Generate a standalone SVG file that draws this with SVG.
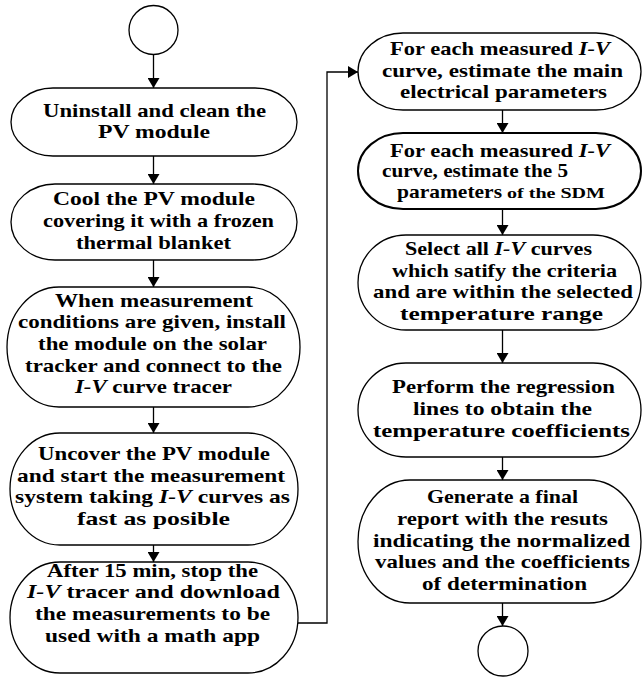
<svg xmlns="http://www.w3.org/2000/svg" width="643" height="678" viewBox="0 0 643 678">
<style>
.n{fill:#fff;stroke:#000;stroke-width:1.3}
.t{font-family:"Liberation Serif","Times New Roman",serif;font-weight:bold;font-size:19px;fill:#000}
.s{font-size:14.5px}
.i{font-style:italic}
.c{fill:none;stroke:#000;stroke-width:1.3}
</style>
<defs>
<marker id="a" markerWidth="10" markerHeight="12" refX="10" refY="6" orient="auto" markerUnits="userSpaceOnUse">
<path d="M0,0 L10,6 L0,12 Z" fill="#000"/>
</marker>
</defs>
<rect width="643" height="678" fill="#fff"/>
<g id="connectors">
<line class="c" x1="153.5" y1="55" x2="153.5" y2="88" marker-end="url(#a)"/>
<line class="c" x1="153.5" y1="156" x2="153.5" y2="184" marker-end="url(#a)"/>
<line class="c" x1="153.5" y1="260" x2="153.5" y2="287" marker-end="url(#a)"/>
<line class="c" x1="153.5" y1="407" x2="153.5" y2="433" marker-end="url(#a)"/>
<line class="c" x1="153.5" y1="545" x2="153.5" y2="562" marker-end="url(#a)"/>
<polyline class="c" points="298,623 327,623 327,72 358,72" marker-end="url(#a)"/>
<line class="c" x1="502.5" y1="110" x2="502.5" y2="133" marker-end="url(#a)"/>
<line class="c" x1="502.5" y1="209" x2="502.5" y2="235" marker-end="url(#a)"/>
<line class="c" x1="502.5" y1="330" x2="502.5" y2="363" marker-end="url(#a)"/>
<line class="c" x1="502.5" y1="457" x2="502.5" y2="480" marker-end="url(#a)"/>
<line class="c" x1="502.5" y1="603" x2="502.5" y2="626" marker-end="url(#a)"/>
</g>
<g id="start"><circle class="n" cx="153.5" cy="30" r="24.5"/></g>
<g id="n1">
<rect class="n" x="11" y="88" width="286" height="68" rx="42" ry="34"/>
<text class="t" x="43" y="117" textLength="223" lengthAdjust="spacingAndGlyphs">Uninstall and clean the</text>
<text class="t" x="98" y="138" textLength="112" lengthAdjust="spacingAndGlyphs">PV module</text>
</g>
<g id="n2">
<rect class="n" x="11" y="184" width="286" height="76" rx="44" ry="38"/>
<text class="t" x="53" y="205" textLength="202" lengthAdjust="spacingAndGlyphs">Cool the PV module</text>
<text class="t" x="43" y="227" textLength="231" lengthAdjust="spacingAndGlyphs">covering it with a frozen</text>
<text class="t" x="76" y="249" textLength="155" lengthAdjust="spacingAndGlyphs">thermal blanket</text>
</g>
<g id="n3">
<rect class="n" x="7" y="287" width="293" height="120" rx="52" ry="60"/>
<text class="t" x="55" y="307" textLength="198" lengthAdjust="spacingAndGlyphs">When measurement</text>
<text class="t" x="18" y="328" textLength="268" lengthAdjust="spacingAndGlyphs">conditions are given, install</text>
<text class="t" x="38" y="350" textLength="229" lengthAdjust="spacingAndGlyphs">the module on the solar</text>
<text class="t" x="25" y="372" textLength="257" lengthAdjust="spacingAndGlyphs">tracker and connect to the</text>
<text class="t" x="75" y="393" textLength="157" lengthAdjust="spacingAndGlyphs"><tspan class="i">I-V</tspan> curve tracer</text>
</g>
<g id="n4">
<rect class="n" x="10" y="433" width="288" height="112" rx="50" ry="56"/>
<text class="t" x="38" y="460" textLength="232" lengthAdjust="spacingAndGlyphs">Uncover the PV module</text>
<text class="t" x="17" y="482" textLength="268" lengthAdjust="spacingAndGlyphs">and start the measurement</text>
<text class="t" x="15" y="503" textLength="275" lengthAdjust="spacingAndGlyphs">system taking <tspan class="i">I-V</tspan> curves as</text>
<text class="t" x="77" y="525" textLength="153" lengthAdjust="spacingAndGlyphs">fast as posible</text>
</g>
<g id="n5">
<rect class="n" x="10" y="562" width="288" height="111" rx="50" ry="55.5"/>
<text class="t" x="47" y="577" textLength="211" lengthAdjust="spacingAndGlyphs">After 15 min, stop the</text>
<text class="t" x="27" y="598" textLength="253" lengthAdjust="spacingAndGlyphs"><tspan class="i">I-V</tspan> tracer and download</text>
<text class="t" x="35" y="620" textLength="235" lengthAdjust="spacingAndGlyphs">the measurements to be</text>
<text class="t" x="45" y="642" textLength="215" lengthAdjust="spacingAndGlyphs">used with a math app</text>
</g>
<g id="r1">
<rect class="n" x="358" y="33" width="283" height="77" rx="45" ry="38.5"/>
<text class="t" x="390" y="55" textLength="220" lengthAdjust="spacingAndGlyphs">For each measured <tspan class="i">I-V</tspan></text>
<text class="t" x="382" y="77" textLength="241" lengthAdjust="spacingAndGlyphs">curve, estimate the main</text>
<text class="t" x="400" y="98" textLength="207" lengthAdjust="spacingAndGlyphs">electrical parameters</text>
</g>
<g id="r2">
<rect class="n" x="358" y="133" width="283" height="76" rx="45" ry="38" style="stroke-width:2"/>
<text class="t" x="390" y="157" textLength="220" lengthAdjust="spacingAndGlyphs">For each measured <tspan class="i">I-V</tspan></text>
<text class="t" x="382" y="177" textLength="186" lengthAdjust="spacingAndGlyphs">curve, estimate the 5</text>
<text class="t" x="397" y="198" textLength="105" lengthAdjust="spacingAndGlyphs">parameters</text>
<text class="t s" x="507" y="198" textLength="98" lengthAdjust="spacingAndGlyphs">of the SDM</text>
</g>
<g id="r3">
<rect class="n" x="358" y="235" width="283" height="95" rx="48" ry="47.5"/>
<text class="t" x="405" y="255" textLength="187" lengthAdjust="spacingAndGlyphs">Select all <tspan class="i">I-V</tspan> curves</text>
<text class="t" x="392" y="277" textLength="225" lengthAdjust="spacingAndGlyphs">which satify the criteria</text>
<text class="t" x="373" y="298" textLength="260" lengthAdjust="spacingAndGlyphs">and are within the selected</text>
<text class="t" x="400" y="320" textLength="203" lengthAdjust="spacingAndGlyphs">temperature range</text>
</g>
<g id="r4">
<rect class="n" x="358" y="363" width="283" height="94" rx="48" ry="47"/>
<text class="t" x="392" y="393" textLength="223" lengthAdjust="spacingAndGlyphs">Perform the regression</text>
<text class="t" x="413" y="415" textLength="179" lengthAdjust="spacingAndGlyphs">lines to obtain the</text>
<text class="t" x="373" y="437" textLength="257" lengthAdjust="spacingAndGlyphs">temperature coefficients</text>
</g>
<g id="r5">
<rect class="n" x="358" y="480" width="283" height="123" rx="52" ry="61.5"/>
<text class="t" x="427" y="503" textLength="151" lengthAdjust="spacingAndGlyphs">Generate a final</text>
<text class="t" x="397" y="525" textLength="211" lengthAdjust="spacingAndGlyphs">report with the resuts</text>
<text class="t" x="373" y="547" textLength="257" lengthAdjust="spacingAndGlyphs">indicating the normalized</text>
<text class="t" x="375" y="568" textLength="255" lengthAdjust="spacingAndGlyphs">values and the coefficients</text>
<text class="t" x="422" y="590" textLength="165" lengthAdjust="spacingAndGlyphs">of determination</text>
</g>
<g id="end"><circle class="n" cx="503" cy="651" r="25"/></g>
</svg>
